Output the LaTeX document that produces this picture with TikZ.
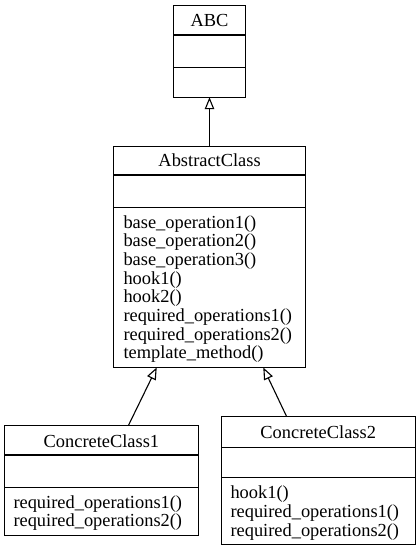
\documentclass[tikz,border=0pt]{standalone}
\usepackage{fontspec}
\setmainfont{Liberation Serif}
\usetikzlibrary{arrows.meta}
\begin{document}
\begin{tikzpicture}[x=1pt,y=-1pt,
  cls/.style={draw, line width=1.1pt, anchor=north west, inner sep=0pt, outer sep=0pt},
  sep/.style={line width=1.1pt},
  txt/.style={font=\fontsize{18.4}{18.7}\selectfont, inner sep=0pt, anchor=base west},
  ttl/.style={font=\fontsize{18.4}{18.7}\selectfont, inner sep=0pt, anchor=base},
  inh/.style={line width=1.1pt, -{Triangle[open, length=12pt, width=9.5pt, line width=1.1pt]}}]
\useasboundingbox (0,0) rectangle (419,551);

% ABC
\node[cls, minimum width=72.4pt, minimum height=91.5pt] (abc) at (173.3,5.7) {};
\draw[sep] (173.3,35) -- (245.7,35);
\draw[sep] (173.3,67.7) -- (245.7,67.7);
\node[ttl] (abct) at (209.5,26.4) {ABC};

% AbstractClass
\node[cls, minimum width=192.2pt, minimum height=220.8pt] (ac) at (113.5,146.7) {};
\draw[sep] (113.5,175) -- (305.7,175);
\draw[sep] (113.5,207.5) -- (305.7,207.5);
\node[ttl] (act) at (209.6,166.8) {AbstractClass};
\foreach \t [count=\i from 0] in {base\_operation1(), base\_operation2(), base\_operation3(), hook1(), hook2(), required\_operations1(), required\_operations2(), template\_method()}
  \node[txt] (acm\i) at (123.3,228+18.7*\i) {\t};

% ConcreteClass1
\node[cls, minimum width=193.8pt, minimum height=110pt] (cc1) at (4.5,425.7) {};
\draw[sep] (4.5,455) -- (198.3,455);
\draw[sep] (4.5,487.3) -- (198.3,487.3);
\node[ttl] (cc1t) at (101.4,447) {ConcreteClass1};
\node[txt] (cc1m0) at (13.3,508) {required\_operations1()};
\node[txt] (cc1m1) at (13.3,526.7) {required\_operations2()};

% ConcreteClass2
\node[cls, minimum width=193.8pt, minimum height=127.6pt] (cc2) at (221.3,416.7) {};
\draw[sep] (221.3,447.3) -- (415.1,447.3);
\draw[sep] (221.3,477.9) -- (415.1,477.9);
\node[ttl] (cc2t) at (318.2,438.2) {ConcreteClass2};
\node[txt] (cc2m0) at (230.3,498.6) {hook1()};
\node[txt] (cc2m1) at (230.3,517.3) {required\_operations1()};
\node[txt] (cc2m2) at (230.3,536) {required\_operations2()};

% inheritance
\draw[inh] (ac.north -| abc.south) -- (abc.south);
\draw[inh] (cc1.north -| 128.3,0) -- (156.7,0 |- ac.south);
\draw[inh] (cc2.north -| 286.7,0) -- (263.3,0 |- ac.south);
\end{tikzpicture}
\end{document}
